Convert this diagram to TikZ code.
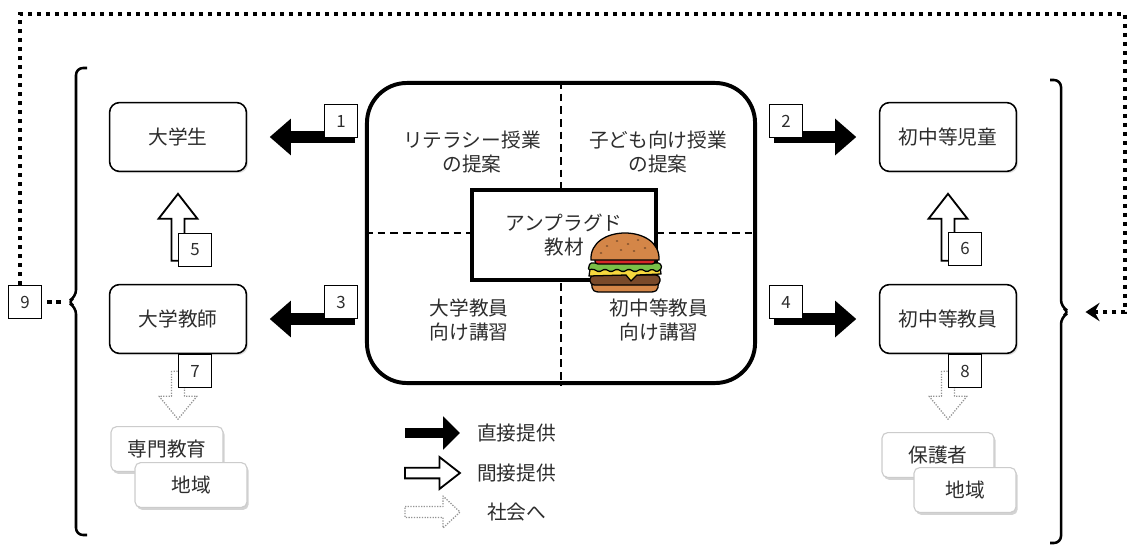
\documentclass[tikz,border=0pt]{standalone}
\usepackage{fontspec}
\setmainfont{Noto Sans CJK JP}
\usepackage{tikz}
\usetikzlibrary{arrows.meta,positioning,calc,shadows}
\definecolor{textgray}{RGB}{45,45,45}
\definecolor{bun}{RGB}{212,134,72}
\definecolor{patty}{RGB}{122,74,42}
\definecolor{tomato}{RGB}{214,40,40}
\definecolor{lettuce}{RGB}{122,192,72}
\definecolor{cheese}{RGB}{246,216,62}
\newcommand\jpsize{\fontsize{14}{17.7}\selectfont}
\tikzset{
  ubox/.style={draw,rounded corners=7pt,line width=1.1pt,fill=white,
               minimum width=3.42cm,minimum height=1.72cm,font=\jpsize,text=textgray,
               drop shadow={shadow xshift=1.2pt,shadow yshift=-1.2pt,opacity=0.25}},
  sbox/.style={draw=gray!40,rounded corners=4pt,line width=0.8pt,fill=white,
               minimum width=2.8cm,minimum height=1.12cm,font=\jpsize,text=textgray,
               drop shadow={shadow xshift=1.2pt,shadow yshift=-1.8pt,opacity=0.35}},
  numbox/.style={draw,fill=white,line width=0.6pt,minimum size=0.82cm,inner sep=0pt,
                 font=\fontsize{12}{14}\selectfont,text=textgray},
  hub/.style={draw,rounded corners=1cm,line width=2.8pt,
              minimum width=9.7cm,minimum height=7.5cm},
  core/.style={draw,fill=white,line width=2.6pt,minimum width=4.6cm,minimum height=2.25cm,
               align=center,font=\jpsize,text=textgray},
  plain/.style={align=center,font=\jpsize,text=textgray},
  quad/.style={line width=1.6pt,dash pattern=on 5.5pt off 3.5pt},
  direct/.style={line width=8.5pt,-{Triangle[length=15pt,width=25pt]}},
  social/.style={draw=gray!85,line width=0.9pt,densely dotted,line join=round},
  brk/.style={line width=1.8pt,rounded corners=5pt},
  feedback/.style={line width=3pt,dash pattern=on 3pt off 3.4pt},
  pics/hollowup/.style={code={
    \draw[line width=1.3pt,fill=white,line join=miter]
      (-6.5,0) -- (-6.5,-42) -- (-19.5,-42) -- (0,-67) -- (19.5,-42) -- (6.5,-42) -- (6.5,0) -- cycle;}},
  pics/socdown/.style={code={
    \draw[social,fill=white]
      (-6.5,0) -- (-6.5,25) -- (-19,25) -- (0,48) -- (19,25) -- (6.5,25) -- (6.5,0) -- cycle;}},
  pics/burger/.style={code={
    \begin{scope}[line width=0.9pt,line join=round]
      % bottom bun, patty, cheese, lettuce, tomato, top bun
      \filldraw[fill=bun] (-33,20) -- (33,20) .. controls (34,30) and (30,30) .. (24,30)
        -- (-24,30) .. controls (-30,30) and (-34,30) .. (-33,20) -- cycle;
      \filldraw[fill=patty,rounded corners=3pt] (-35,13) rectangle (35,23);
      \filldraw[fill=cheese] (-35,7) -- (35,5) -- (36,12) -- (12,13) -- (6,19) -- (1,13) -- (-36,14) -- cycle;
      \filldraw[fill=lettuce,rounded corners=1pt] (-35,1) -- (35,1) -- (37,6) -- (32,10) -- (27,7)
        -- (22,10) -- (16,7) -- (10,10) -- (4,7) -- (-2,10) -- (-8,7) -- (-14,10) -- (-20,7)
        -- (-26,10) -- (-32,7) -- (-37,8) -- cycle;
      \filldraw[fill=tomato,rounded corners=2pt] (-30,-5) rectangle (30,2);
      \filldraw[fill=bun] (-34,-2) .. controls (-36,-38) and (36,-38) .. (34,-2) -- cycle;
      \foreach \p in {(-18,-16),(-8,-21),(3,-18),(13,-22),(20,-14),(-4,-12),(9,-11),(-24,-9)}
        \fill[bun!55!black] \p ellipse (1pt and 0.6pt);
    \end{scope}}},
}

\begin{document}
\begin{tikzpicture}[x=0.025cm,y=-0.025cm]
\useasboundingbox (0,0) rectangle (1129,545);

% material in the middle, split into four offers
\node[hub] (hub) at (561,233) {};
\draw[quad] (hub.north) -- (hub.south);
\draw[quad] (hub.west) -- (hub.east);
\node[plain] (lit) at (472,152) {リテラシー授業\\の提案};
\node[plain] (kid) at (658,152) {子ども向け授業\\の提案};
\node[plain] (uni) at (469,320) {大学教員\\向け講習};
\node[plain] (sch) at (659,320) {初中等教員\\向け講習};
\node[core] (core) at (564,235) {アンプラグド\\教材};
\pic at (625,262) {burger};

% receivers
\node[ubox] (stu) at (178,137) {大学生};
\node[ubox] (tch) at (178,319) {大学教師};
\node[ubox] (kids) at (948,137) {初中等児童};
\node[ubox] (tea) at (948,319) {初中等教員};

\draw[direct,shorten <=7pt,shorten >=16pt] (hub.west |- stu.east) -- (stu.east);
\draw[direct,shorten <=7pt,shorten >=16pt] (hub.west |- tch.east) -- (tch.east);
\draw[direct,shorten <=12pt,shorten >=16pt] (hub.east |- kids.west) -- (kids.west);
\draw[direct,shorten <=12pt,shorten >=16pt] (hub.east |- tea.west) -- (tea.west);

\pic at ($(tch.north)+(0,-23)$) {hollowup};
\pic at ($(tea.north)+(0,-23)$) {hollowup};
\pic at ($(tch.south)+(0,17)$) {socdown};
\pic at ($(tea.south)+(0,17)$) {socdown};

% society
\node[sbox] (spec) at (167,449) {専門教育};
\node[sbox] (regL) at (191,485) {地域};
\node[sbox] (par) at (938,455) {保護者};
\node[sbox,minimum width=2.55cm] (regR) at (965,490) {地域};

% step numbers
\node[numbox] (n1) at ($(hub.west |- stu.east)+(-24,-16)$) {1};
\node[numbox] (n3) at ($(hub.west |- tch.east)+(-24,-17)$) {3};
\node[numbox] (n2) at ($(hub.east |- kids.west)+(29,-16)$) {2};
\node[numbox] (n4) at ($(hub.east |- tea.west)+(29,-17)$) {4};
\node[numbox] (n5) at ($(tch.north)+(17,-34)$) {5};
\node[numbox] (n6) at ($(tea.north)+(17,-35)$) {6};
\node[numbox] (n7) at ($(tch.south)+(17,17)$) {7};
\node[numbox] (n8) at ($(tea.south)+(17,17)$) {8};
\node[numbox] (n9) at (25,302) {9};

% brackets and the loop back
\coordinate (tipL) at (67,302);
\coordinate (tipR) at (1070,312);
\draw[brk] (87,68) -- (76,68) -- (76,297) -- (tipL) -- (76,307) -- (76,535) -- (87,535);
\draw[brk] (1050,80) -- (1061,80) -- (1061,307) -- (tipR) -- (1061,317) -- (1061,543) -- (1050,543);
\coordinate (fbL) at (20,14);
\coordinate (fbR) at (1125,14);
\draw[feedback,shorten <=4pt,shorten >=2pt] (n9.east) -- (tipL);
\draw[feedback,shorten >=11pt,-{Stealth[length=10pt,width=13pt,inset=3.5pt]}]
  (n9.north -| fbL) |- (fbR) |- (tipR);

% legend
\node[plain,anchor=west,inner sep=0pt] (lg1) at (477,433) {直接提供};
\node[plain,anchor=west,inner sep=0pt] (lg2) at (477,473) {間接提供};
\node[plain,anchor=west,inner sep=0pt] (lg3) at (487,512) {社会へ};
\draw[line width=7.8pt,-{Triangle[length=12pt,width=23pt]}]
  ($(lg1.west)+(-72,0)$) -- ($(lg1.west)+(-17,0)$);
\pic[rotate=-90,scale=0.82] at ($(lg2.west)+(-72,0)$) {hollowup};
\draw[social] ($(lg3.west)+(-82,-5.5)$) -- ++(38,0) -- ++(0,-10.5) -- ++(17,16)
  -- ++(-17,16) -- ++(0,-10.5) -- ++(-38,0) -- cycle;
\end{tikzpicture}
\end{document}
